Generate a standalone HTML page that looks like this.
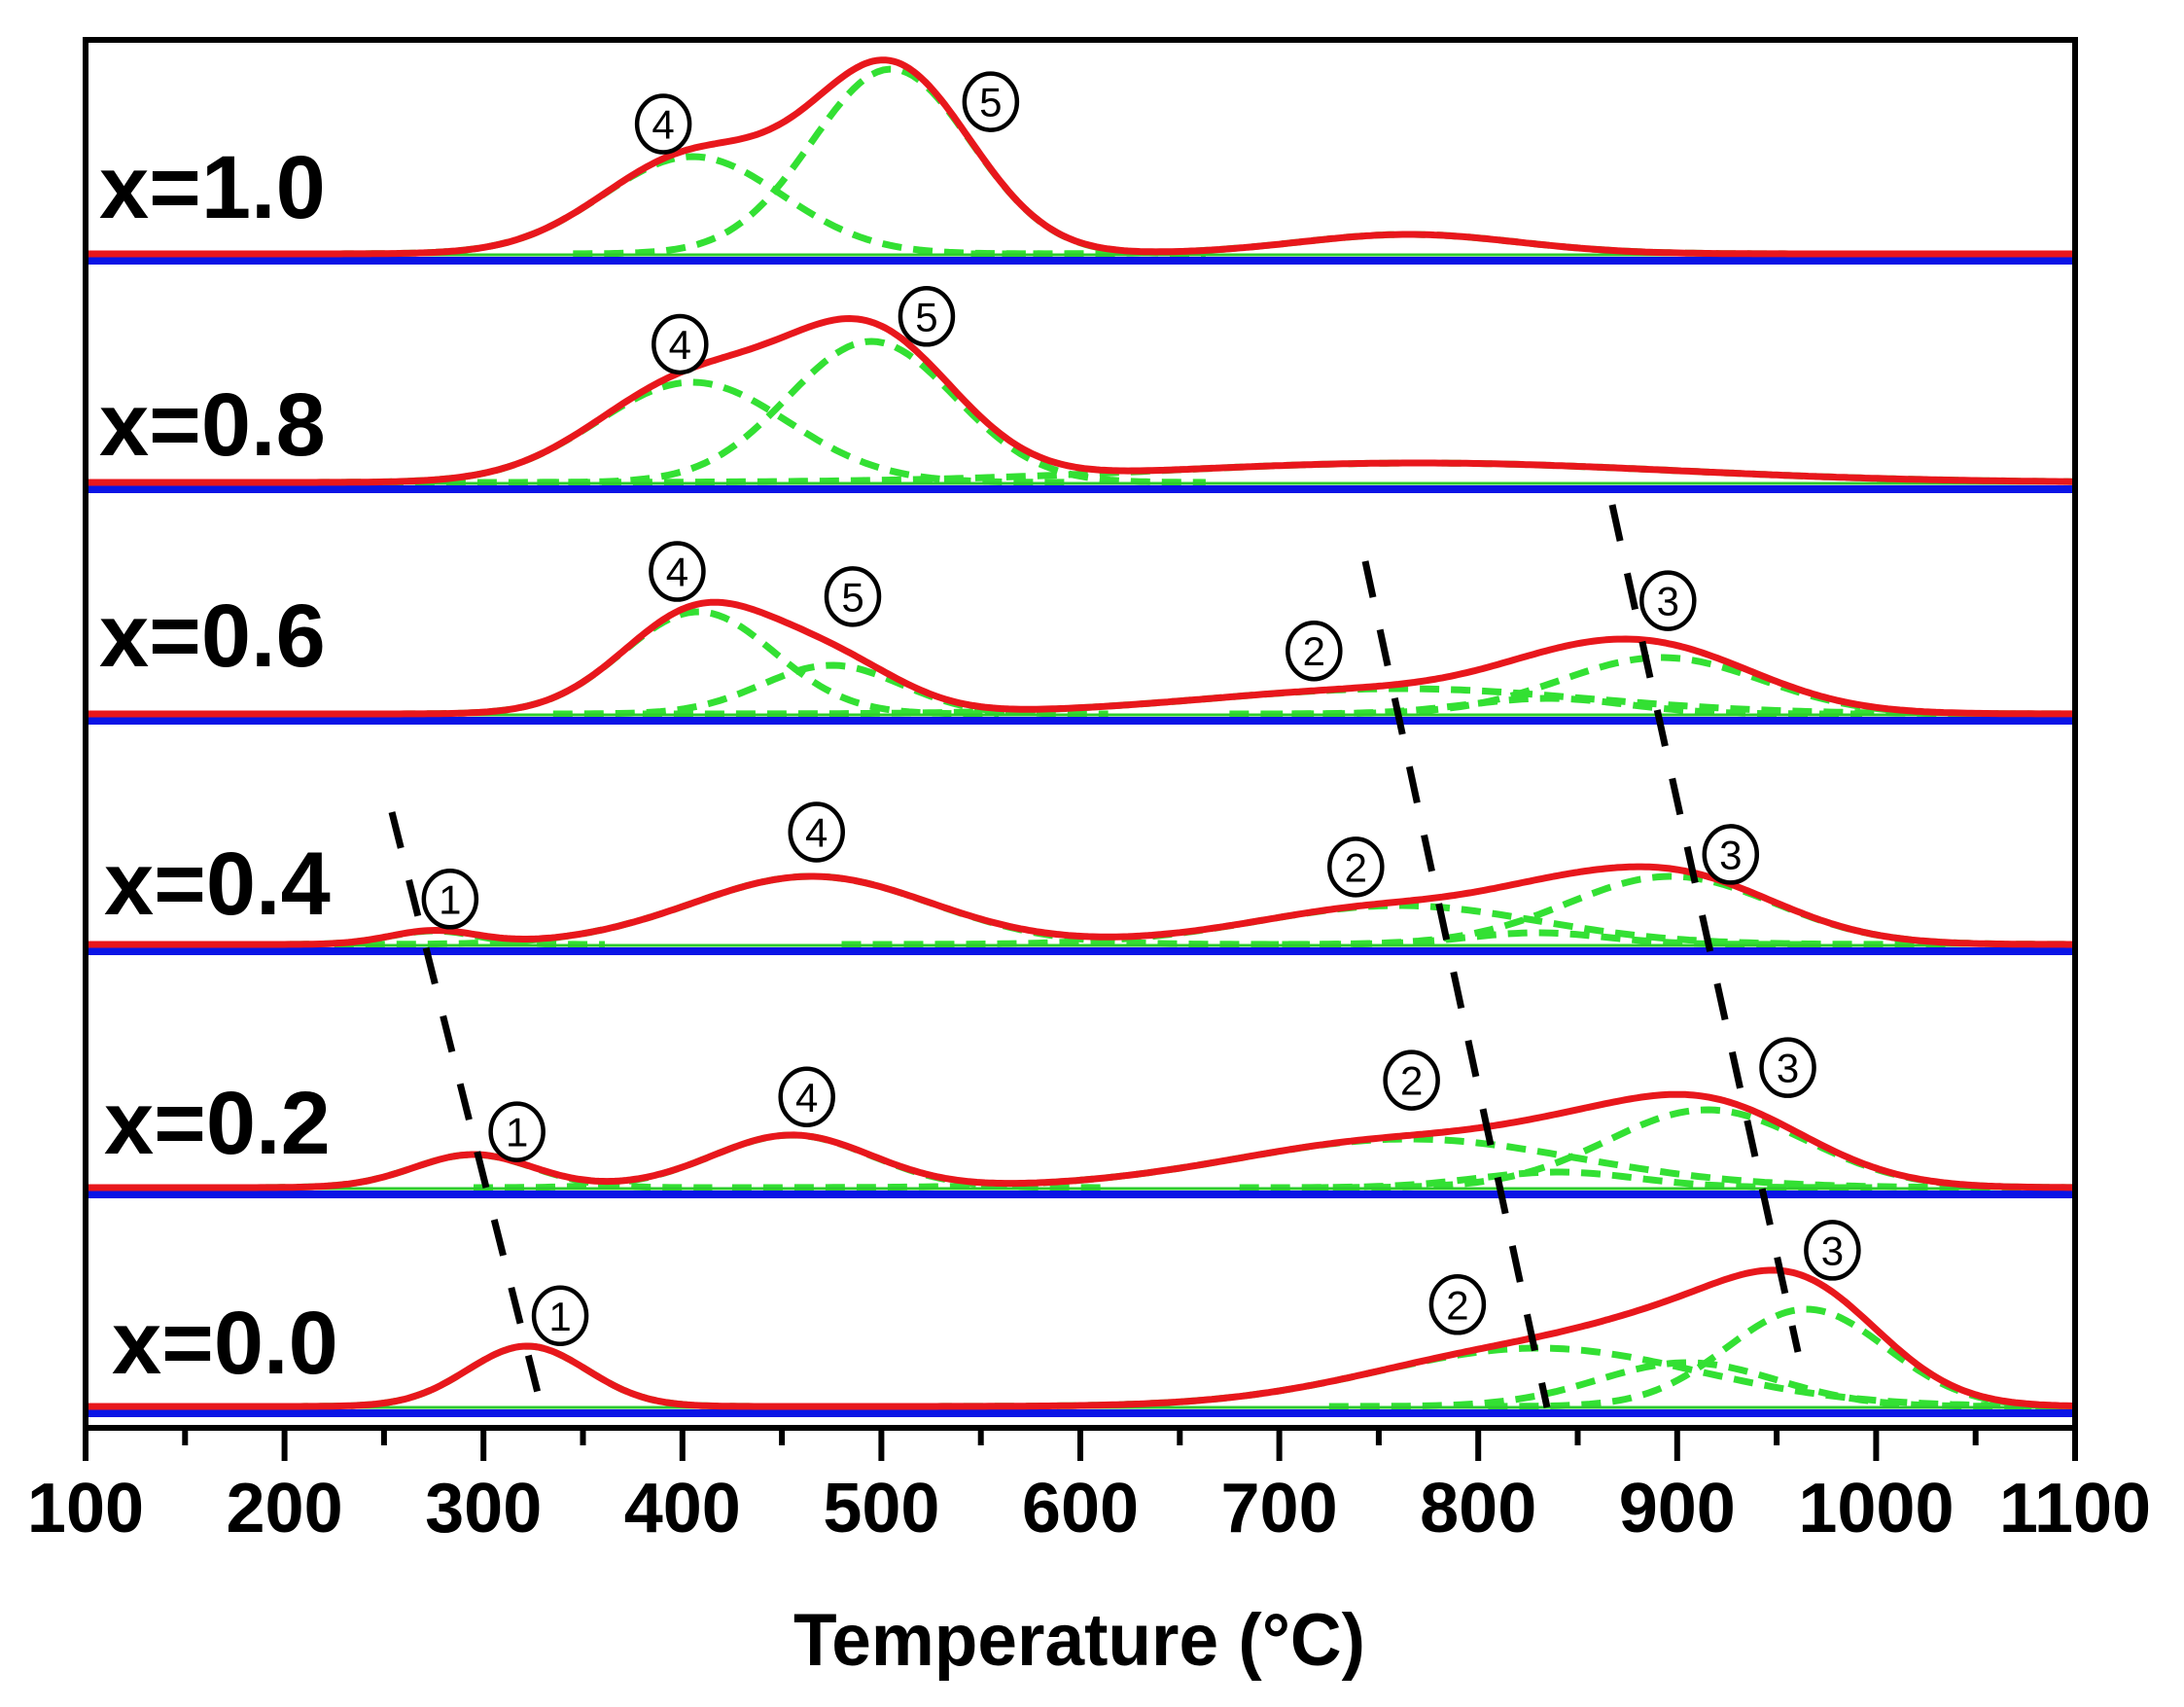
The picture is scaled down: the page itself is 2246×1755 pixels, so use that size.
<!DOCTYPE html>
<html><head><meta charset="utf-8"><style>
html,body{margin:0;padding:0;background:#fff;}
svg{display:block;}
</style></head><body>
<svg id="s" width="2246" height="1755" viewBox="0 0 2246 1755" xmlns="http://www.w3.org/2000/svg" font-family="Liberation Sans, Arial, sans-serif">
<g id="curves"></g>
<g id="dash" stroke="#000" stroke-width="7" stroke-dasharray="38,34" fill="none">
<line x1="403" y1="835" x2="556" y2="1444"/>
<line x1="1404" y1="577" x2="1591" y2="1447"/>
<line x1="1658" y1="519" x2="1849" y2="1390"/>
</g>
<g id="circ"></g>
<rect x="88" y="41" width="2046" height="1427" fill="none" stroke="#000" stroke-width="6"/>
<g id="ticks" stroke="#000" stroke-width="6"></g>
<g font-weight="bold" font-size="92" fill="#000">
<text x="102" y="224">x=1.0</text>
<text x="102" y="468">x=0.8</text>
<text x="102" y="685">x=0.6</text>
<text x="107" y="940">x=0.4</text>
<text x="107" y="1186">x=0.2</text>
<text x="115" y="1412">x=0.0</text>
</g>
<g id="tl" font-weight="bold" font-size="72" fill="#000" text-anchor="middle"></g>
<text x="1110" y="1712" font-weight="bold" font-size="76" text-anchor="middle" textLength="588" lengthAdjust="spacingAndGlyphs">Temperature (°C)</text>
</svg>
<script>
var NS="http://www.w3.org/2000/svg";
function X(T){return 88+(T-100)*2.046;}
var panels=[
 {b:268,c:[[405,45,100],[505,40,190],[765,55,20]]},
 {b:503,c:[[405,48,103],[495,42,145],[770,130,20]]},
 {b:741,c:[[408,38,105],[475,35,50],[760,95,26],[835,40,16],[892,50,58]]},
 {b:978,c:[[275,22,14],[465,60,70],[760,70,40],[830,35,12],[897,52,70]]},
 {b:1228,c:[[295,30,34],[455,40,54],[765,85,50],[840,40,16],[915,50,80]]},
 {b:1453,c:[[322,30,62],[830,80,60],[905,45,45],[965,40,100]]}
];
var g=document.getElementById('curves');
function add(tag,attrs,parent){var e=document.createElementNS(NS,tag);for(var k in attrs)e.setAttribute(k,attrs[k]);(parent||g).appendChild(e);return e;}
panels.forEach(function(p){
  var base=p.b-7;
  p.c.forEach(function(c){
    var d="",first=true;
    for(var T=Math.max(100,c[0]-4*c[1]);T<=Math.min(1100,c[0]+4*c[1]);T+=3){
      var v=c[2]*Math.exp(-(T-c[0])*(T-c[0])/(2*c[1]*c[1]));
      d+=(first?"M":"L")+X(T).toFixed(1)+","+(base-v).toFixed(1);first=false;
    }
    add('path',{d:d,fill:'none',stroke:'#33e033','stroke-width':7,'stroke-dasharray':'20,12'});
  });
  add('line',{x1:88,x2:2134,y1:base+1,y2:base+1,stroke:'#2ecc2e','stroke-width':3});
  add('line',{x1:88,x2:2134,y1:p.b,y2:p.b,stroke:'#0a14e6','stroke-width':8});
  var d="";
  for(var T=100;T<=1100;T+=2){
    var v=0;p.c.forEach(function(c){v+=c[2]*Math.exp(-(T-c[0])*(T-c[0])/(2*c[1]*c[1]));});
    d+=(T==100?"M":"L")+X(T).toFixed(1)+","+(base-v).toFixed(1);
  }
  add('path',{d:d,fill:'none',stroke:'#e8171c','stroke-width':7,'stroke-linejoin':'round'});
});
var cn=[["④",476,89],["⑤",711,73],["④",488,247],["⑤",665,227],["④",486,410],["⑤",612,428],["②",943,467],["③",1197,431],
["①",323,645],["④",586,597],["②",973,622],["③",1242,613],["①",371,812],["④",579,787],["②",1013,775],["③",1283,766],
["①",402,944],["②",1046,936],["③",1315,897]];
var cg=document.getElementById('circ');
var map={"①":"1","②":"2","③":"3","④":"4","⑤":"5"};
cn.forEach(function(c){
  var x=c[1]*1.433,y=c[2]*1.433;
  add('ellipse',{cx:x,cy:y,rx:27,ry:29,fill:'#fff',stroke:'#000','stroke-width':4.5},cg);
  var t=add('text',{x:x,y:y+15,'text-anchor':'middle','font-size':42,fill:'#000'},cg);
  t.textContent=map[c[0]];
});
var tk=document.getElementById('ticks'),tl=document.getElementById('tl');
for(var T=100;T<=1100;T+=50){
  var major=(T%100==0);
  add('line',{x1:X(T),x2:X(T),y1:1468,y2:major?1502:1486},tk);
  if(major){var t=add('text',{x:X(T),y:1575},tl);t.textContent=T;}
}
</script>
</body></html>
